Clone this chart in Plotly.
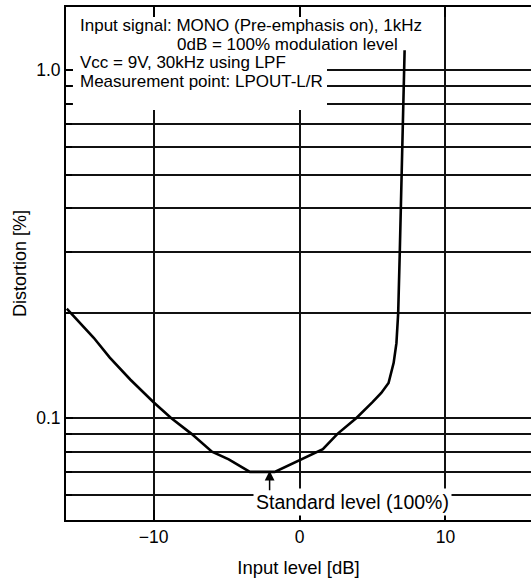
import math
import plotly.graph_objects as go

# Distortion vs. input level (MONO, pre-emphasis on, 1 kHz)
level_db = [-15.95, -14.1, -13.0, -11.6, -10.0, -8.8, -7.4, -6.0, -4.85, -3.4,
            -1.7, 0.0, 1.6, 2.6, 3.9, 5.0, 5.6, 6.1, 6.45, 6.64, 6.76, 6.87,
            6.94, 7.01, 7.06, 7.12, 7.15, 7.2]
distortion_pct = [0.206, 0.170, 0.149, 0.129, 0.111, 0.100, 0.090, 0.080, 0.076, 0.070,
                  0.070, 0.0757, 0.0813, 0.090, 0.100, 0.111, 0.118, 0.126, 0.144, 0.164,
                  0.200, 0.300, 0.400, 0.500, 0.600, 0.800, 1.000, 1.14]

x_ticks = [-10, 0, 10]
x_tick_text = ["\u221210", "0", "10"]
y_ticks = [0.1, 1.0]
y_tick_text = ["0.1", "1.0"]
y_minor = [0.06, 0.07, 0.08, 0.09, 0.2, 0.3, 0.4, 0.5, 0.6, 0.7, 0.8, 0.9]

header_lines = [
    "Input signal: MONO (Pre-emphasis on), 1kHz",
    "0dB = 100% modulation level",
    "Vcc = 9V, 30kHz using LPF",
    "Measurement point: LPOUT-L/R",
]
standard_db = -2.05
standard_pct = 0.0705

FONT = "Liberation Sans, Arial, Helvetica, sans-serif"
W, H = 531, 583
ML, MR, MT, MB = 66, 0, 7, 63
PW, PH = W - ML - MR, H - MT - MB


def px_x(px):
    return (px - ML) / PW


def px_y(py):
    return (H - MB - py) / PH


fig = go.Figure(
    go.Scatter(x=level_db, y=distortion_pct, mode="lines",
               line=dict(color="black", width=2.6), hoverinfo="skip")
)

grid = dict(showgrid=True, gridcolor="#111111", gridwidth=1.5)

fig.update_layout(
    width=W, height=H,
    margin=dict(l=ML, r=MR, t=MT, b=MB),
    paper_bgcolor="white", plot_bgcolor="white",
    showlegend=False,
    font=dict(family=FONT, color="black", size=17),
    xaxis=dict(
        range=[-16, 15.86], tickmode="array", tickvals=x_ticks, ticktext=x_tick_text,
        ticks="inside", ticklen=10, tickwidth=1.5, tickcolor="black",
        showline=True, linecolor="black", linewidth=2, mirror="ticks",
        zeroline=False, tickfont=dict(size=17.5),
        title=dict(text="Input level [dB]", font=dict(size=18.5), standoff=15),
        **grid,
    ),
    yaxis=dict(
        type="log", range=[math.log10(0.0509), 0.181],
        tickmode="array", tickvals=y_ticks, ticktext=y_tick_text,
        ticks="inside", ticklen=7, tickwidth=1.5, tickcolor="black",
        showline=True, linecolor="black", linewidth=2, mirror=False,
        zeroline=False, tickfont=dict(size=17.5),
        title=dict(text="Distortion [%]", font=dict(size=18), standoff=5),
        minor=dict(tickmode="array", tickvals=y_minor, ticks="inside", ticklen=6,
                   tickcolor="black", showgrid=True, gridcolor="#111111", gridwidth=1.5),
        **grid,
    ),
)

# white panel behind the condition notes (leaves short grid stubs at the frame)
fig.add_shape(type="rect", xref="paper", yref="paper",
              x0=px_x(73), x1=px_x(327), y0=px_y(110), y1=px_y(17),
              fillcolor="white", line=dict(width=0), layer="above")

header_pos = [(78, 25.5), (175, 44), (78, 62.5), (78, 81)]
for text, (px, py) in zip(header_lines, header_pos):
    fig.add_annotation(text=text, xref="paper", yref="paper", x=px_x(px), y=px_y(py),
                       xanchor="left", yanchor="middle", showarrow=False,
                       font=dict(size=17))

# standard level marker
fig.add_annotation(text="Standard level (100%)", xref="paper", yref="paper",
                   x=px_x(352.5), y=px_y(502), xanchor="center", yanchor="middle",
                   showarrow=False, bgcolor="white", borderpad=2, font=dict(size=19.5))
fig.add_annotation(text="", x=standard_db, y=math.log10(standard_pct), xref="x", yref="y",
                   showarrow=True, arrowhead=2, arrowsize=1.3, arrowwidth=1.5,
                   arrowcolor="black", ax=0, ay=21)

fig.write_html("out.html")
